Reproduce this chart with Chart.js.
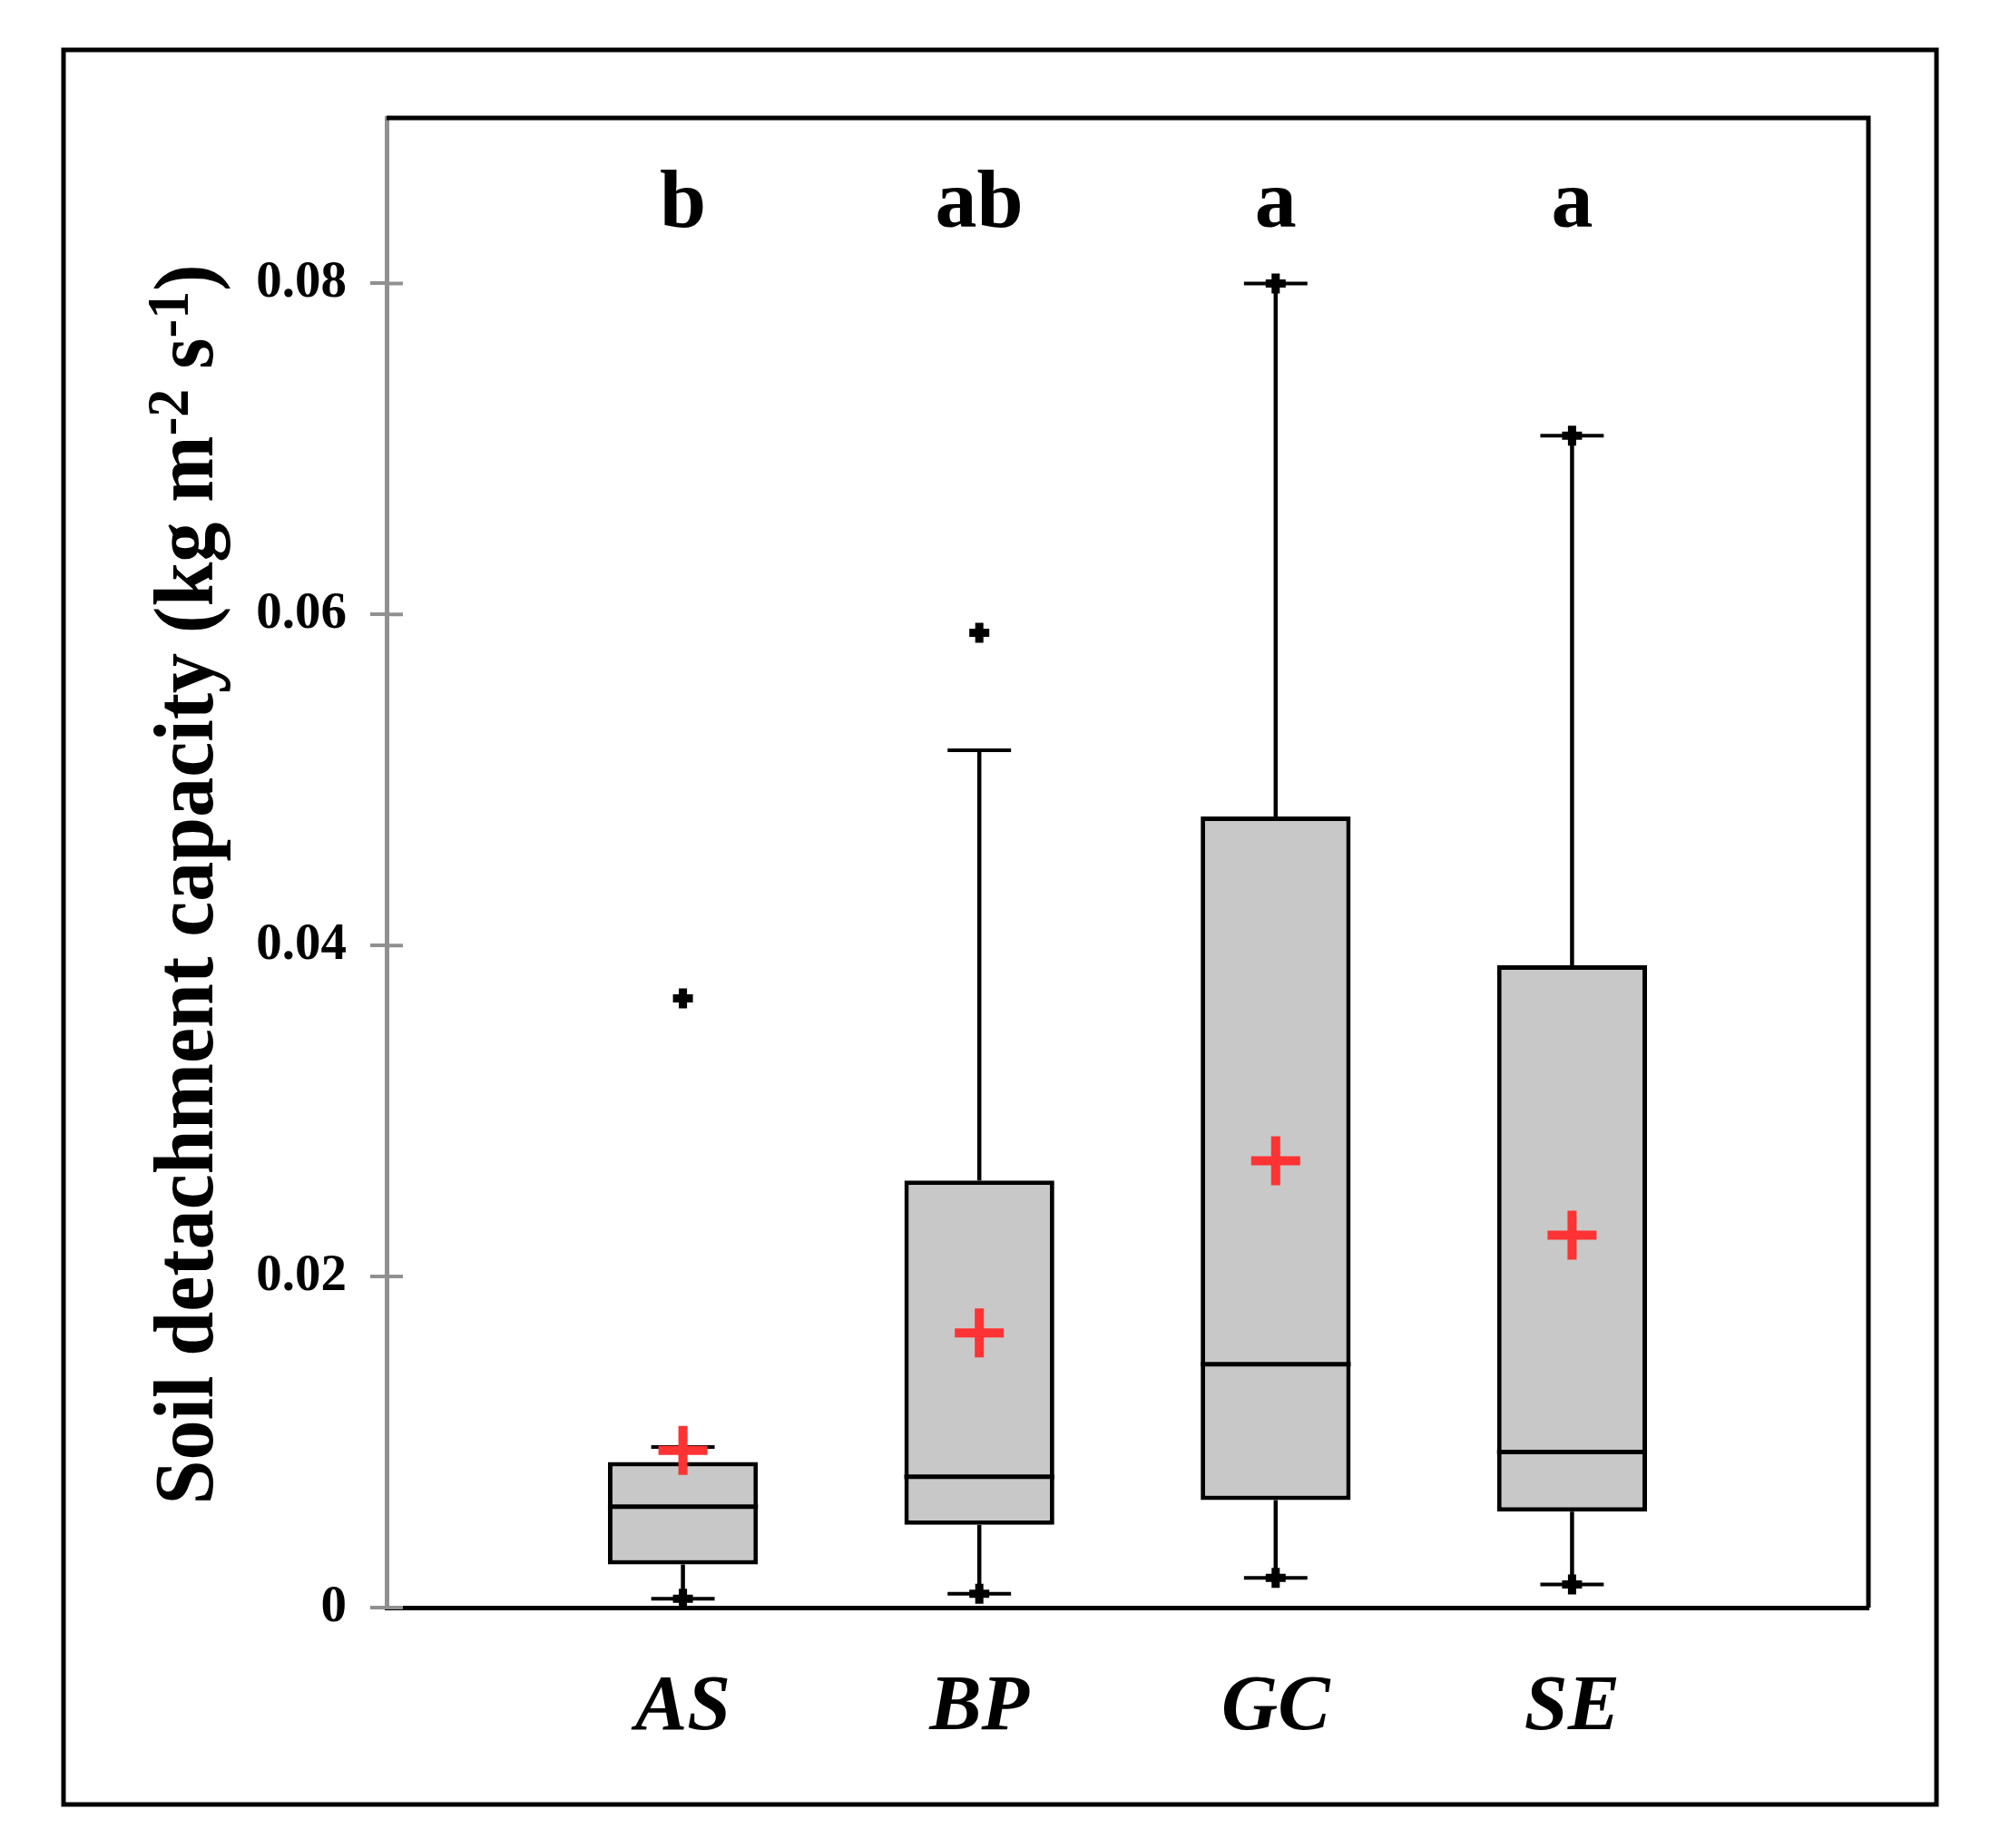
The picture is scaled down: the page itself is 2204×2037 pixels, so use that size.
<!DOCTYPE html>
<html>
<head>
<meta charset="utf-8">
<script src="https://cdn.jsdelivr.net/npm/chart.js@4.4.1/dist/chart.umd.min.js"></script>
<style>
    html, body { margin: 0; padding: 0; background: #fff; }
    canvas { display: block; }
</style>
</head>
<body>
<canvas id="grafico" width="2204" height="2037"></canvas>
<script>
// DADOS
const categories = ['AS', 'BP', 'GC', 'SE'];
const groups = ['b', 'ab', 'a', 'a'];
const q1 = [0.0026, 0.0050, 0.0065, 0.0058];
const medians = [0.0061, 0.0079, 0.0147, 0.0094];
const q3 = [0.0088, 0.0258, 0.0478, 0.0388];
const whiskerLow = [0.00054, 0.00083, 0.0018, 0.0014];
const whiskerHigh = [0.0097, 0.0518, 0.0800, 0.0708];
const minimums = [0.00054, 0.00083, 0.0018, 0.0014];
const maximums = [0.0368, 0.0589, 0.0800, 0.0708];
const means = [0.0095, 0.0166, 0.0270, 0.0225];
const yTicks = [0, 0.02, 0.04, 0.06, 0.08];

const serif = "'Liberation Serif', 'Times New Roman', serif";
const cinza = '#909090';

// pontos (min/max)
const pontos = [];
categories.forEach((c, i) => {
    pontos.push({ x: i + 1, y: minimums[i] });
    pontos.push({ x: i + 1, y: maximums[i] });
});

// PLUGIN: moldura, bigodes, medianas, letras e título
const desenho = {
    id: 'desenho',
    beforeDraw(chart) {
        const ctx = chart.ctx;
        ctx.save();
        ctx.fillStyle = '#fff';
        ctx.fillRect(0, 0, chart.width, chart.height);
        ctx.strokeStyle = '#000';
        ctx.lineWidth = 5;
        ctx.strokeRect(70, 55, 2064, 1934);
        ctx.restore();
    },
    beforeDatasetsDraw(chart) {
        const ctx = chart.ctx;
        const x = chart.scales.x, y = chart.scales.y;
        const unit = x.getPixelForValue(1) - x.getPixelForValue(0);
        const cap = 0.107 * unit;
        ctx.save();
        ctx.strokeStyle = '#000';
        categories.forEach((c, i) => {
            const px = x.getPixelForValue(i + 1);
            ctx.lineWidth = 4.5;
            ctx.beginPath();
            ctx.moveTo(px, y.getPixelForValue(q1[i]));
            ctx.lineTo(px, y.getPixelForValue(whiskerLow[i]));
            ctx.moveTo(px, y.getPixelForValue(q3[i]));
            ctx.lineTo(px, y.getPixelForValue(whiskerHigh[i]));
            ctx.stroke();
            ctx.lineWidth = 4;
            ctx.beginPath();
            [whiskerLow[i], whiskerHigh[i]].forEach(v => {
                const py = y.getPixelForValue(v);
                ctx.moveTo(px - cap, py);
                ctx.lineTo(px + cap, py);
            });
            ctx.stroke();
        });
        ctx.restore();
    },
    afterDatasetDraw(chart, args) {
        if (args.index !== 0) return;
        const ctx = chart.ctx;
        const y = chart.scales.y;
        ctx.save();
        ctx.strokeStyle = '#000';
        ctx.lineWidth = 5;
        args.meta.data.forEach((bar, i) => {
            const py = y.getPixelForValue(medians[i]);
            ctx.beginPath();
            ctx.moveTo(bar.x - bar.width / 2, py);
            ctx.lineTo(bar.x + bar.width / 2, py);
            ctx.stroke();
        });
        ctx.restore();
    },
    afterDraw(chart) {
        const ctx = chart.ctx;
        const area = chart.chartArea;
        const x = chart.scales.x, y = chart.scales.y;
        ctx.save();
        // topo e lado direito da área
        ctx.strokeStyle = '#000';
        ctx.lineWidth = 5;
        ctx.beginPath();
        ctx.moveTo(area.left, area.top);
        ctx.lineTo(area.right, area.top);
        ctx.lineTo(area.right, area.bottom);
        ctx.stroke();
        // marcas internas do eixo y
        ctx.strokeStyle = cinza;
        ctx.lineWidth = 4;
        ctx.beginPath();
        yTicks.forEach(v => {
            const py = y.getPixelForValue(v);
            ctx.moveTo(area.left, py);
            ctx.lineTo(area.left + 18, py);
        });
        ctx.stroke();
        // letras de significância
        ctx.fillStyle = '#000';
        ctx.font = 'bold 92px ' + serif;
        ctx.textAlign = 'center';
        ctx.textBaseline = 'alphabetic';
        groups.forEach((g, i) => {
            ctx.fillText(g, x.getPixelForValue(i + 1), y.getPixelForValue(0.0834));
        });
        ctx.restore();

        // título do eixo y
        const main = 'bold 88px ' + serif, sup = 'bold 62px ' + serif;
        const parts = [
            ['Soil detachment capacity (kg m', main, 0],
            ['-2', sup, 1],
            [' s', main, 0],
            ['-1', sup, 1],
            [')', main, 0]
        ];
        ctx.save();
        let total = 0;
        parts.forEach(p => { ctx.font = p[1]; total += ctx.measureText(p[0]).width; });
        ctx.translate(234, 975);
        ctx.rotate(-Math.PI / 2);
        ctx.scale(1, 1.05);
        ctx.fillStyle = '#000';
        ctx.textBaseline = 'alphabetic';
        let pos = -total / 2;
        parts.forEach(p => {
            ctx.font = p[1];
            ctx.fillText(p[0], pos, p[2] ? -26 : 0);
            pos += ctx.measureText(p[0]).width;
        });
        ctx.restore();
    }
};

// GRÁFICO BOXPLOT
new Chart(document.getElementById('grafico'), {
    type: 'bar',
    data: {
        datasets: [{
            type: 'bar',
            data: categories.map((c, i) => ({ x: i + 1, y: [q1[i], q3[i]] })),
            backgroundColor: '#c8c8c8',
            borderColor: '#000',
            borderWidth: 5,
            borderSkipped: false,
            barPercentage: 0.506,
            categoryPercentage: 1,
            order: 3
        }, {
            type: 'scatter',
            data: pontos,
            pointStyle: 'cross',
            pointRadius: 11,
            pointBorderWidth: 9,
            borderColor: '#000',
            backgroundColor: '#000',
            order: 1
        }, {
            type: 'scatter',
            data: means.map((m, i) => ({ x: i + 1, y: m })),
            pointStyle: 'cross',
            pointRadius: 27,
            pointBorderWidth: 10,
            borderColor: '#ff3333',
            backgroundColor: '#ff3333',
            order: 0
        }]
    },
    options: {
        responsive: false,
        animation: false,
        devicePixelRatio: 1,
        events: [],
        layout: { padding: { left: 0, top: 130, right: 145, bottom: 0 } },
        plugins: { legend: { display: false }, tooltip: { enabled: false } },
        scales: {
            x: {
                type: 'linear',
                min: 0,
                max: 5,
                offset: false,
                afterBuildTicks: s => { s.ticks = categories.map((c, i) => ({ value: i + 1 })); },
                afterFit: s => { s.height = 265; },
                grid: { display: false, drawTicks: false, offset: false },
                border: { display: true, color: '#000', width: 5 },
                ticks: {
                    padding: 60,
                    color: '#000',
                    font: { family: serif, size: 86, style: 'italic', weight: 'bold' },
                    callback: v => categories[v - 1] || ''
                }
            },
            y: {
                min: 0,
                max: 0.09,
                afterBuildTicks: s => { s.ticks = yTicks.map(v => ({ value: v })); },
                afterFit: s => { s.width = 426; },
                grid: { display: true, drawOnChartArea: false, drawTicks: true, tickLength: 18, color: cinza, lineWidth: 4 },
                border: { display: true, color: cinza, width: 5 },
                ticks: {
                    padding: 26,
                    color: '#000',
                    font: { family: serif, size: 57, weight: 'bold' },
                    callback: v => v === 0 ? '0' : v.toFixed(2)
                }
            }
        }
    },
    plugins: [desenho]
});
</script>
</body>
</html>
